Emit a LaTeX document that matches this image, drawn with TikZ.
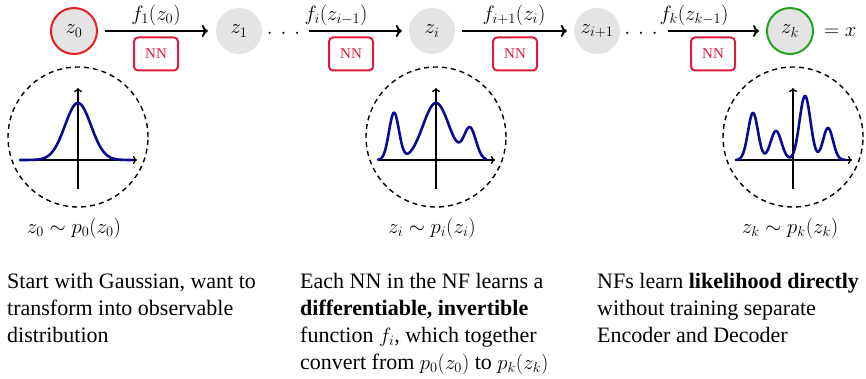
\documentclass[tikz,border=0pt]{standalone}
\usepackage[no-math]{fontspec}
\setmainfont{Liberation Serif}
\usetikzlibrary{arrows.meta,calc}
\definecolor{nnred}{RGB}{222,28,60}
\definecolor{zred}{RGB}{232,30,30}
\definecolor{zgreen}{RGB}{30,165,30}
\definecolor{curveblue}{RGB}{10,10,145}
\definecolor{zfill}{RGB}{228,228,228}
\pgfmathdeclarefunction{gs}{3}{\pgfmathparse{exp(max(-9,-((#1-#2)^2)/(2*#3*#3)))}}
\begin{document}
\begin{tikzpicture}[x=1pt,y=-1pt,
  zvar/.style={circle, fill=zfill, minimum size=46pt, inner sep=0pt, font=\fontsize{21}{25}\selectfont},
  nnbox/.style={draw=nnred, line width=2pt, rounded corners=4pt, minimum width=44pt, minimum height=33pt, text=nnred, font=\fontsize{15}{18}\selectfont, inner sep=0pt},
  flow/.style={line width=2pt, -{Computer Modern Rightarrow[length=6pt,width=12pt]}},
  mathlbl/.style={font=\fontsize{21}{25}\selectfont, inner sep=0pt},
  dist/.style={draw, line width=1.4pt, dash pattern=on 5pt off 4pt, circle, minimum size=140pt, inner sep=0pt},
  axis/.style={line width=1.4pt, -{Computer Modern Rightarrow[length=4pt,width=8pt]}},
  density/.style={draw=curveblue, line width=2.6pt, line join=round, line cap=round},
  desc/.style={anchor=north west, align=left, inner sep=0pt, font=\fontsize{22}{27}\selectfont}
]
\useasboundingbox (0,0) rectangle (866,379);

% chain of variables
\node[zvar, draw=zred, line width=2pt] (z0) at (74,31) {$z_0$};
\node[zvar] (z1) at (239,31) {$z_1$};
\node[mathlbl] (d1) at (283.5,34) {$\cdotp\mkern4mu\cdotp\mkern4mu\cdotp$};
\node[zvar] (zi) at (432,31) {$z_i$};
\node[zvar] (zi1) at (597,31) {$z_{i+1}$};
\node[mathlbl] (d2) at (641,34) {$\cdotp\mkern4mu\cdotp\mkern4mu\cdotp$};
\node[zvar, draw=zgreen, line width=2pt] (zk) at (790,31) {$z_k$};
\node[mathlbl, anchor=west] (eqx) at (824,32) {$=x$};

% arrows
\draw[flow, shorten <=7pt, shorten >=8pt] (z0) -- (z1);
\draw[flow, shorten <=9pt, shorten >=7pt] (d1.east |- zi.west) -- (zi.west);
\draw[flow, shorten <=7pt, shorten >=7pt] (zi) -- (zi1);
\draw[flow, shorten <=10pt, shorten >=7pt] (d2.east |- zk.west) -- (zk.west);

% arrow labels
\node[mathlbl] (l1) at (156,15) {$f_1(z_0)$};
\node[mathlbl] (l2) at (336,15) {$f_i(z_{i-1})$};
\node[mathlbl] (l3) at (514,15) {$f_{i+1}(z_i)$};
\node[mathlbl] (l4) at (694,15) {$f_k(z_{k-1})$};

% NN boxes
\node[nnbox] (nn1) at (156,54) {NN};
\node[nnbox] (nn2) at (351,54) {NN};
\node[nnbox] (nn3) at (515,54) {NN};
\node[nnbox] (nn4) at (713,54) {NN};

% distribution circles
\node[dist] (c0) at (78,137) {};
\node[dist] (c1) at (436,137) {};
\node[dist] (c2) at (793,137) {};

\foreach \c in {c0,c1,c2}{
  \draw[axis] ($(\c)+(-58,23)$) -- ($(\c)+(59,23)$);
  \draw[axis] ($(\c)+(0,52)$) -- ($(\c)+(0,-49)$);
}

% densities
\draw[density] plot[domain=20:133, samples=160, smooth] (\x, {160-57*gs(\x,78,13)});
\draw[density] plot[domain=378:486, samples=200, smooth]
  (\x, {160-47*gs(\x,394,5)-57*gs(\x,436,13)-31*gs(\x,470,6)});
\draw[density] plot[domain=736:846, samples=220, smooth]
  (\x, {160-47*gs(\x,753,5)-29*gs(\x,776,5.5)-64*gs(\x,805,5.5)-32*gs(\x,828,5)});

% distribution labels
\node[mathlbl] (p0) at (74,228) {$z_0\sim p_0(z_0)$};
\node[mathlbl] (pi) at (432,228) {$z_i\sim p_i(z_i)$};
\node[mathlbl] (pk) at (790,228) {$z_k\sim p_k(z_k)$};

% descriptions
\node[desc] (t1) at (7,273) {Start with Gaussian, want to\\transform into observable\\distribution};
\node[desc] (t2) at (300,273) {Each NN in the NF learns a\\\textbf{differentiable, invertible}\\function $f_i$, which together\\convert from $p_0(z_0)$ to $p_k(z_k)$};
\node[desc] (t3) at (597,273) {NFs learn \textbf{likelihood directly}\\without training separate\\Encoder and Decoder};
\end{tikzpicture}
\end{document}
